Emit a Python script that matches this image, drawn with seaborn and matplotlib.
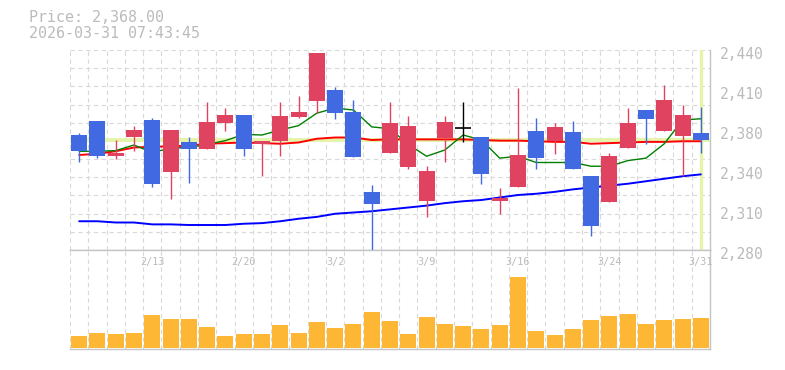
import numpy as np
import pandas as pd
import matplotlib
matplotlib.use("Agg")
import matplotlib.pyplot as plt
import matplotlib.transforms as mtransforms
import seaborn as sns

# ---------------- data ----------------
dates = ["2/6", "2/9", "2/10", "2/12", "2/13", "2/16", "2/17", "2/18", "2/19", "2/20",
         "2/24", "2/25", "2/26", "2/27", "3/2", "3/3", "3/4", "3/5", "3/6", "3/9",
         "3/10", "3/11", "3/12", "3/13", "3/16", "3/17", "3/18", "3/19", "3/23", "3/24",
         "3/25", "3/26", "3/27", "3/30", "3/31"]
opens = [2372, 2383, 2355.5, 2370.5, 2384, 2342.5, 2366.5, 2361, 2382, 2388,
         2365, 2367, 2386.5, 2399, 2408, 2390.5, 2326.5, 2357.5, 2346.5, 2319.5,
         2369.5, 2378, 2370.5, 2319.5, 2330.5, 2375, 2367.5, 2374.5, 2339, 2318.5,
         2362, 2392, 2375.5, 2371.5, 2373.5]
highs = [2373.5, 2383.5, 2368, 2379, 2385.5, 2376, 2370.5, 2398.5, 2393.5, 2388,
         2367, 2398.5, 2403, 2438, 2410.5, 2400, 2332, 2398.5, 2387, 2347,
         2387, 2398.5, 2370.5, 2329.5, 2409.5, 2385.5, 2381.5, 2383, 2339, 2357.5,
         2393.5, 2392, 2412, 2396, 2394.5]
lows = [2350.5, 2354, 2353, 2359.5, 2330.5, 2321, 2334, 2361, 2375, 2355.5,
        2339.5, 2355.5, 2386, 2389.5, 2385, 2354.5, 2280, 2357.5, 2345, 2306.5,
        2350.5, 2366.5, 2333, 2309, 2330.5, 2345, 2357, 2345, 2291.5, 2318.5,
        2362, 2365, 2375.5, 2339, 2358]
closes = [2359.5, 2355.5, 2357.5, 2376, 2333, 2376, 2361, 2382.5, 2388, 2361,
          2367, 2387, 2390.5, 2437.5, 2390, 2354.5, 2317, 2381.5, 2379, 2343,
          2382.5, 2378, 2341, 2322, 2356, 2354, 2378.5, 2345, 2299.5, 2355,
          2381.5, 2385, 2400, 2388, 2368]
ma_short = [2359, 2359, 2359.5, 2364, 2358, 2361.5, 2362, 2364.5, 2367.5, 2372.5,
            2372, 2376, 2379.5, 2389.5, 2393.5, 2392, 2378.5, 2377, 2364.5, 2355,
            2360, 2372, 2368, 2353.5, 2355, 2350, 2350, 2350, 2347, 2347,
            2351.5, 2353.5, 2365, 2384, 2385]
ma_mid = [2356, 2357, 2359, 2362, 2362.5, 2363, 2363.5, 2365, 2365.5, 2366,
          2365.5, 2365, 2366, 2369, 2370, 2370, 2368, 2368.5, 2368.5, 2368.5,
          2368.5, 2368.5, 2368, 2367.5, 2367.5, 2367, 2366.5, 2366.5, 2365, 2365.5,
          2366, 2366.5, 2366.5, 2367, 2367]
ma_long = [2303, 2303, 2302, 2302, 2300.5, 2300.5, 2300, 2300, 2300, 2301,
           2301.5, 2303, 2305, 2306.5, 2309, 2310, 2311, 2312.5, 2314, 2315.5,
           2317.5, 2319, 2320, 2322, 2324, 2325, 2326.5, 2328.5, 2330, 2331.5,
           2333, 2335, 2337, 2339, 2340.5]
volume = [23, 29, 27, 29, 65, 57, 57, 41, 23, 27,
          27, 45, 29, 51, 39, 47, 71, 53, 27, 61,
          47, 43, 37, 45, 141, 33, 25, 37, 55, 63,
          67, 47, 55, 57, 59]
tick_dates = ["2/13", "2/20", "3/2", "3/9", "3/16", "3/24", "3/31"]
price_ticks = [2280, 2312, 2344, 2376, 2408, 2440]
price_tick_labels = ["2,280", "2,310", "2,340", "2,380", "2,410", "2,440"]
last_price = 2368.00
timestamp = "2026-03-31 07:43:45"

df = pd.DataFrame({"date": dates, "open": opens, "high": highs, "low": lows,
                   "close": closes, "ma5": ma_short, "ma25": ma_mid,
                   "ma75": ma_long, "volume": volume})
df["i"] = np.arange(len(df))

# ---------------- style ----------------
sns.set_style("white")
plt.rcParams["font.family"] = ["DejaVu Sans Mono"]
TXT = "#bbbbbb"
GRID = "#d9d9d9"
SPINE = "#c4c4c4"
UP = "#e0435f"
DOWN = "#4169e1"
HL = "#e4f5aa"
VOL = "#fdb735"

fig = plt.figure(figsize=(7.85, 3.70), dpi=100)
W, H = 785, 370
L, R = 70, 710
ax = fig.add_axes([L / W, 120 / H, (R - L) / W, 200 / H])
axv = fig.add_axes([L / W, 21 / H, (R - L) / W, 99 / H])

n = len(df)
for a in (ax, axv):
    a.set_xlim(-0.5, n - 0.5)
    a.set_facecolor("white")
    for s in a.spines.values():
        s.set_color(SPINE)
        s.set_linewidth(1.0)
    a.spines["left"].set_visible(False)
    for k in range(n + 1):
        a.axvline(-0.5 + k, color=GRID, lw=0.8, ls=(0, (4, 3)), zorder=0.5)

# price panel
ymin, ymax = 2280, 2440
ax.set_ylim(ymin, ymax)
ax.spines["top"].set_visible(False)
for k in range(1, 12):
    ax.axhline(ymin + k * (ymax - ymin) / 11, color=GRID, lw=0.8,
               ls=(0, (4, 3)), zorder=0.5)

ax.axhline(last_price, color=HL, lw=2.8, zorder=1)
ax.axvline(n - 1, ymin=0.01, ymax=1, color=HL, lw=2.4, zorder=1)

sns.lineplot(data=df, x="i", y="ma75", color="#0000ff", lw=1.4, ax=ax, zorder=2)
sns.lineplot(data=df, x="i", y="ma25", color="#ff0000", lw=1.4, ax=ax, zorder=2)
sns.lineplot(data=df, x="i", y="ma5", color="#008000", lw=1.0, ax=ax, zorder=2)

bw = 0.875
for _, r in df.iterrows():
    if r["close"] > r["open"]:
        c = UP
    elif r["close"] < r["open"]:
        c = DOWN
    else:
        c = "black"
    ax.vlines(r["i"], r["low"], r["high"], color=c, lw=1.0, zorder=3)
    if c == "black":
        ax.hlines(r["close"], r["i"] - bw / 2, r["i"] + bw / 2, color=c, lw=1.2, zorder=4)
    else:
        lo = min(r["open"], r["close"])
        ax.bar(r["i"], abs(r["close"] - r["open"]), bottom=lo, width=bw,
               color=c, edgecolor="none", zorder=4)

ax.set_xlabel("")
ax.set_ylabel("")
ax.set_xticks([])
ax.yaxis.tick_right()
ax.set_yticks(price_ticks, price_tick_labels)
ax.tick_params(axis="y", length=0, pad=7.2, labelsize=10.5, labelcolor=TXT)
off = mtransforms.ScaledTranslation(0, -2.7 / 100, fig.dpi_scale_trans)
for lab in ax.get_yticklabels():
    lab.set_transform(lab.get_transform() + off)
    lab.set_horizontalalignment("left")

# volume panel
sns.barplot(data=df, x="i", y="volume", color=VOL, saturation=1, width=bw,
            edgecolor="none", ax=axv, zorder=2)
axv.set_xlim(-0.5, n - 0.5)
axv.set_ylim(-2.6, 195.4)
axv.set_xticks([])
axv.set_yticks([])
axv.set_xlabel("")
axv.set_ylabel("")
for t in tick_dates:
    i = dates.index(t)
    axv.text(i, 1 - 12 / 99, t, transform=axv.get_xaxis_transform(),
             ha="center", va="center", fontsize=7.3, color=TXT, zorder=5)

fig.text(29 / W, 1 - 18 / H, f"Price: {last_price:,.2f}", ha="left", va="center",
         fontsize=10.8, color=TXT)
fig.text(29 / W, 1 - 33 / H, timestamp, ha="left", va="center",
         fontsize=10.8, color=TXT)

fig.savefig("out.png", dpi=100, facecolor="white")
